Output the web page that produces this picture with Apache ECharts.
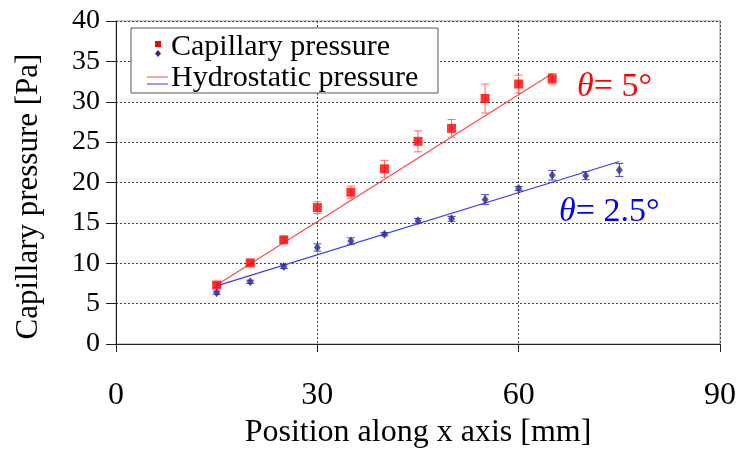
<!DOCTYPE html>
<html>
<head>
<meta charset="utf-8">
<script src="https://cdn.jsdelivr.net/npm/echarts@6/dist/echarts.min.js"></script>
<style>html,body{margin:0;padding:0;background:#fff}#c{width:742px;height:449px}</style>
</head>
<body>
<div id="c"></div>
<script>
const xRed = [15, 20, 25, 30, 35, 40, 45, 50, 55, 60, 65];
const yRed = [7.3, 10.05, 12.9, 16.9, 18.8, 21.7, 25.1, 26.7, 30.4, 32.2, 32.85];
const eRed = [0.3, 0.25, 0.3, 0.72, 0.75, 1.05, 1.3, 1.1, 1.8, 1.1, 0.65];
const xBlue = [15, 20, 25, 30, 35, 40, 45, 50, 55, 60, 65, 70, 75];
const yBlue = [6.35, 7.7, 9.6, 11.95, 12.75, 13.6, 15.25, 15.5, 17.9, 19.25, 20.9, 20.85, 21.55];
const eBlue = [0.2, 0.2, 0.25, 0.45, 0.4, 0.2, 0.3, 0.3, 0.6, 0.25, 0.6, 0.5, 0.8];
const xRedFit = [15, 65];
const yRedFit = [7.3, 33.5];
const xBlueFit = [15, 75];
const yBlueFit = [7.2, 22.6];
const xTicks = [0, 30, 60, 90];
const yTicks = [0, 5, 10, 15, 20, 25, 30, 35, 40];

const FONT = 'Liberation Serif';
const zip = (a, b) => a.map((v, i) => [v, b[i]]);
const zip3 = (a, b, c) => a.map((v, i) => [v, b[i], c[i]]);

function errBar(color) {
  return function (params, api) {
    const x = api.value(0), y = api.value(1), e = api.value(2);
    const lo = api.coord([x, y - e]);
    const hi = api.coord([x, y + e]);
    const w = 4;
    const st = { stroke: color, lineWidth: 1 };
    return {
      type: 'group',
      children: [
        { type: 'line', shape: { x1: lo[0], y1: lo[1], x2: hi[0], y2: hi[1] }, style: st },
        { type: 'line', shape: { x1: lo[0] - w, y1: lo[1], x2: lo[0] + w, y2: lo[1] }, style: st },
        { type: 'line', shape: { x1: hi[0] - w, y1: hi[1], x2: hi[0] + w, y2: hi[1] }, style: st }
      ]
    };
  };
}

const chart = echarts.init(document.getElementById('c'), null, { renderer: 'canvas' });
chart.setOption({
  animation: false,
  backgroundColor: '#fff',
  textStyle: { fontFamily: FONT },
  grid: { left: 116, right: 22, top: 21, bottom: 105, outerBoundsMode: 'none', containLabel: false, show: true, borderColor: '#999', borderWidth: 1, backgroundColor: 'transparent' },
  xAxis: {
    type: 'value', min: xTicks[0], max: xTicks[xTicks.length - 1], interval: 30,
    axisLine: { show: true, lineStyle: { color: '#222', width: 1 } },
    axisTick: { show: true, length: 8, lineStyle: { color: '#222' } },
    splitLine: { show: true, lineStyle: { color: '#444', type: [2, 2], width: 1 } },
    axisLabel: { color: '#000', fontFamily: FONT, fontSize: 32, margin: 36 },
    name: 'Position along x axis [mm]', nameLocation: 'middle', nameGap: 58,
    nameTextStyle: { color: '#000', fontFamily: FONT, fontSize: 32 }
  },
  yAxis: {
    type: 'value', min: yTicks[0], max: yTicks[yTicks.length - 1], interval: 5,
    axisLine: { show: true, lineStyle: { color: '#222', width: 1 } },
    axisTick: { show: true, length: 10, lineStyle: { color: '#222' } },
    splitLine: { show: true, lineStyle: { color: '#444', type: [2, 2], width: 1 } },
    axisLabel: { color: '#000', fontFamily: FONT, fontSize: 28, margin: 16 },
    name: 'Capillary pressure [Pa]', nameLocation: 'middle', nameGap: 72,
    nameTextStyle: { color: '#000', fontFamily: FONT, fontSize: 31, padding: [0, 28, 0, 0] }
  },
  series: [
    { type: 'line', data: zip(xRedFit, yRedFit), showSymbol: false, symbol: 'none', lineStyle: { color: '#ff4848', width: 1.2 }, z: 2 },
    { type: 'line', data: zip(xBlueFit, yBlueFit), showSymbol: false, symbol: 'none', lineStyle: { color: '#3a3aff', width: 1.2 }, z: 2 },
    { type: 'custom', data: zip3(xRed, yRed, eRed), renderItem: errBar('#ff6a6a'), z: 3, encode: { x: 0, y: 1 } },
    { type: 'custom', data: zip3(xBlue, yBlue, eBlue), renderItem: errBar('#4a4ad8'), z: 3, encode: { x: 0, y: 1 } },
    { type: 'scatter', data: zip(xRed, yRed), symbol: 'rect', symbolSize: 9, itemStyle: { color: '#ff0000' }, z: 4 },
    { type: 'scatter', data: zip(xBlue, yBlue), symbol: 'diamond', symbolSize: [7, 9], itemStyle: { color: '#2a2a8a' }, z: 4 }
  ],
  graphic: [
    { type: 'rect', shape: { x: 131, y: 28, width: 307, height: 65 }, style: { fill: '#fff', stroke: '#555', lineWidth: 1 }, z: 10 },
    { type: 'rect', shape: { x: 155, y: 41, width: 6, height: 6 }, style: { fill: '#ff0000' }, z: 11 },
    { type: 'polygon', shape: { points: [[158, 50], [161, 53.5], [158, 57], [155, 53.5]] }, style: { fill: '#2a2a8a' }, z: 11 },
    { type: 'line', shape: { x1: 147, y1: 77, x2: 168, y2: 77 }, style: { stroke: '#ff4848', lineWidth: 1 }, z: 11 },
    { type: 'line', shape: { x1: 147, y1: 84, x2: 168, y2: 84 }, style: { stroke: '#3a3aff', lineWidth: 1 }, z: 11 },
    { type: 'text', x: 171, y: 47, style: { text: 'Capillary pressure', fontFamily: FONT, fontSize: 30, fill: '#000', verticalAlign: 'middle' }, z: 11 },
    { type: 'text', x: 171, y: 78, style: { text: 'Hydrostatic pressure', fontFamily: FONT, fontSize: 30, fill: '#000', verticalAlign: 'middle' }, z: 11 },
    { type: 'text', x: 577, y: 87, style: { text: '{i|θ}= 5°', fontFamily: FONT, fontSize: 34, fill: '#ff0000', verticalAlign: 'middle', rich: { i: { fontFamily: FONT, fontStyle: 'italic', fontSize: 34, fill: '#ff0000' } } }, z: 11 },
    { type: 'text', x: 559, y: 212, style: { text: '{i|θ}= 2.5°', fontFamily: FONT, fontSize: 34, fill: '#0000ff', verticalAlign: 'middle', rich: { i: { fontFamily: FONT, fontStyle: 'italic', fontSize: 34, fill: '#0000ff' } } }, z: 11 }
  ]
});
</script>
</body>
</html>
